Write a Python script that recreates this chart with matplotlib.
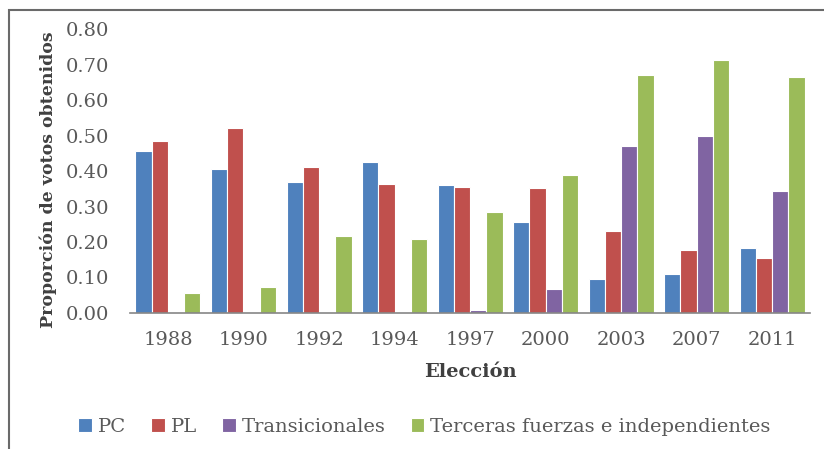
import matplotlib.pyplot as plt
import numpy as np
from matplotlib.patches import Rectangle

elecciones = ['1988', '1990', '1992', '1994', '1997', '2000', '2003', '2007', '2011']
pc = [0.457, 0.406, 0.370, 0.426, 0.362, 0.256, 0.095, 0.110, 0.183]
pl = [0.485, 0.522, 0.412, 0.364, 0.356, 0.352, 0.231, 0.177, 0.155]
transicionales = [0.0, 0.0, 0.0, 0.0, 0.008, 0.067, 0.471, 0.499, 0.345]
terceras = [0.056, 0.072, 0.217, 0.208, 0.285, 0.390, 0.672, 0.712, 0.664]

series = [('PC', pc, '#4F81BD'),
          ('PL', pl, '#C0504D'),
          ('Transicionales', transicionales, '#8064A2'),
          ('Terceras fuerzas e independientes', terceras, '#9BBB59')]

plt.rcParams['font.family'] = ['DejaVu Serif']

fig = plt.figure(figsize=(8.24, 4.49), dpi=100)
ax = fig.add_axes([0.158, 0.303, 0.825, 0.632])

x = np.arange(len(elecciones))
w = 0.215
for i, (name, vals, color) in enumerate(series):
    ax.bar(x + (i - 1.5) * w, vals, w, color=color, edgecolor='white',
           linewidth=0.8, label=name)

ax.set_xlim(-0.5, len(elecciones) - 0.5)
ax.set_ylim(0, 0.8)
ax.set_yticks(np.arange(0, 0.81, 0.1))
ax.set_yticklabels([f'{v:.2f}' for v in np.arange(0, 0.81, 0.1)])
ax.set_xticks(x)
ax.set_xticklabels(elecciones)
ax.tick_params(axis='both', length=0, labelsize=14, colors='#595959')
ax.tick_params(axis='y', pad=15)
ax.tick_params(axis='x', pad=13)

for s in ['top', 'right', 'left']:
    ax.spines[s].set_visible(False)
ax.spines['bottom'].set_color('#868686')
ax.spines['bottom'].set_linewidth(1.2)

ax.set_xlabel('Elección', fontsize=14, fontweight='bold', color='#404040', labelpad=10)
ax.set_ylabel('Proporción de votos obtenidos', fontsize=12.5, fontweight='bold',
              color='#404040')
ax.yaxis.set_label_coords(-0.108, 0.47)

fig.legend(loc='center', bbox_to_anchor=(0.515, 0.049), ncol=4, frameon=False,
           fontsize=14, handlelength=0.7, handleheight=0.7, handletextpad=0.3,
           columnspacing=1.3, labelcolor='#595959')

fig.patches.append(Rectangle((9 / 824, -0.1), 1.2, 1 - 10 / 449 + 0.1,
                             transform=fig.transFigure, fill=False,
                             edgecolor='#6a6a6a', linewidth=1.5))

fig.savefig('out.png', dpi=100)
